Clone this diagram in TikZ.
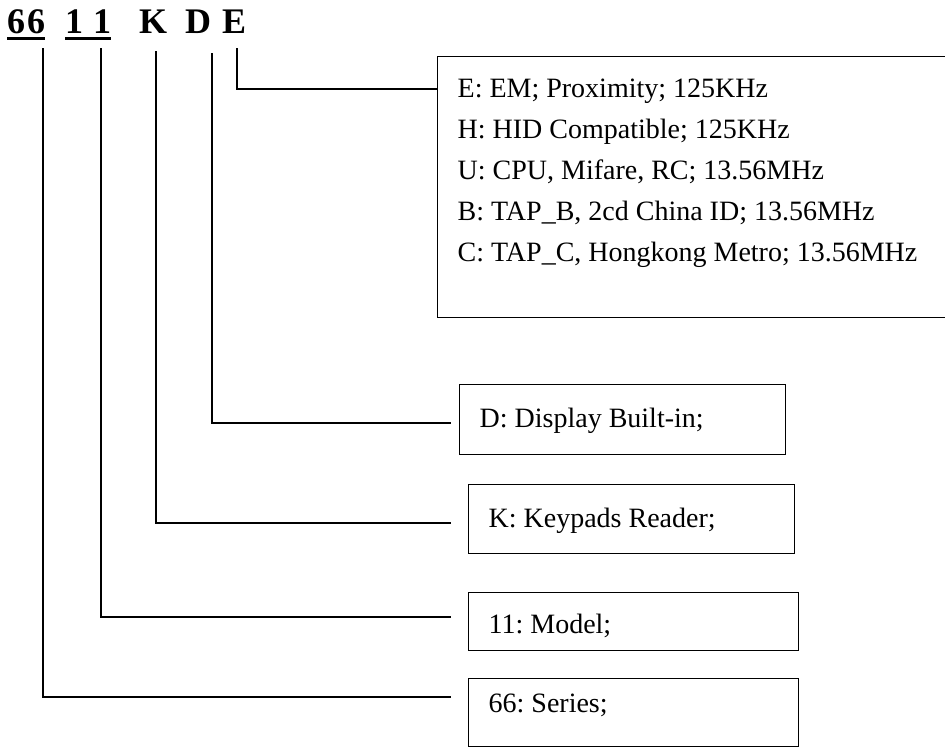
\documentclass[tikz,border=0pt]{standalone}
\usepackage{fontspec}
\setmainfont{Liberation Serif}
\usepackage{tikz}
\usetikzlibrary{calc}
\newcommand{\bodyfont}{\fontsize{28}{41}\selectfont\frenchspacing}
\newcommand{\codefont}{\fontsize{36}{40}\selectfont\bfseries}
\newcommand{\codeul}[1]{%
  \setbox0\hbox{#1}%
  \rlap{\rule[-7.2pt]{\wd0}{3pt}}\box0%
}
\tikzset{
  conn/.style={line width=1.3pt},
  codepart/.style={anchor=base west,inner sep=0pt,font=\codefont},
  partbox/.style n args={3}{draw,line width=1.3pt,anchor=north west,
    inner xsep=20pt,inner ysep=0pt,text width=#1,text height=#2,
    text depth=#3,align=flush left,font=\bodyfont},
}

\begin{document}
\begin{tikzpicture}[x=1pt,y=-1pt]
  \useasboundingbox (0,0) rectangle (945,747);
  \node[codepart] (t66) at (7,33) {\codeul{6\kern2pt6}};
  \node[codepart] (t11) at (65,33) {\codeul{1\kern10pt1}};
  \node[codepart] (tK) at (139,33) {K};
  \node[codepart] (tD) at (185,33) {D};
  \node[codepart] (tE) at (222,33) {E};
  \node[partbox={483pt}{41pt}{220pt}] (bE) at (437,56) {E: EM; Proximity; 125KHz\\
    H: HID Compatible; 125KHz\\
    U: CPU, Mifare, RC; 13.56MHz\\
    B: TAP\_B, 2cd China ID; 13.56MHz\\
    C: TAP\_C, Hongkong Metro; 13.56MHz};
  \node[partbox={286pt}{42.5pt}{27.5pt}] (bD) at (459,384) {D: Display Built-in;};
  \node[partbox={286pt}{43pt}{26pt}] (bK) at (468,484) {K: Keypads Reader;};
  \node[partbox={290pt}{41pt}{17pt}] (b11) at (468,592) {11: Model;};
  \node[partbox={290pt}{34pt}{34pt}] (b66) at (468,678) {66: Series;};
  \coordinate (eD) at (451,423);
  \coordinate (eK) at (451,523);
  \coordinate (e11) at (451,617);
  \coordinate (e66) at (451,697);
  \draw[conn] ($(tE.base west)+(15,15)$) |- ($(bE.north west)+(0,33)$);
  \foreach \n/\dx/\dy in {D/27/20,K/17/18,11/36/15,66/36/15}
    \draw[conn] ($(t\n.base west)+(\dx,\dy)$) |- (e\n);
\end{tikzpicture}
\end{document}
